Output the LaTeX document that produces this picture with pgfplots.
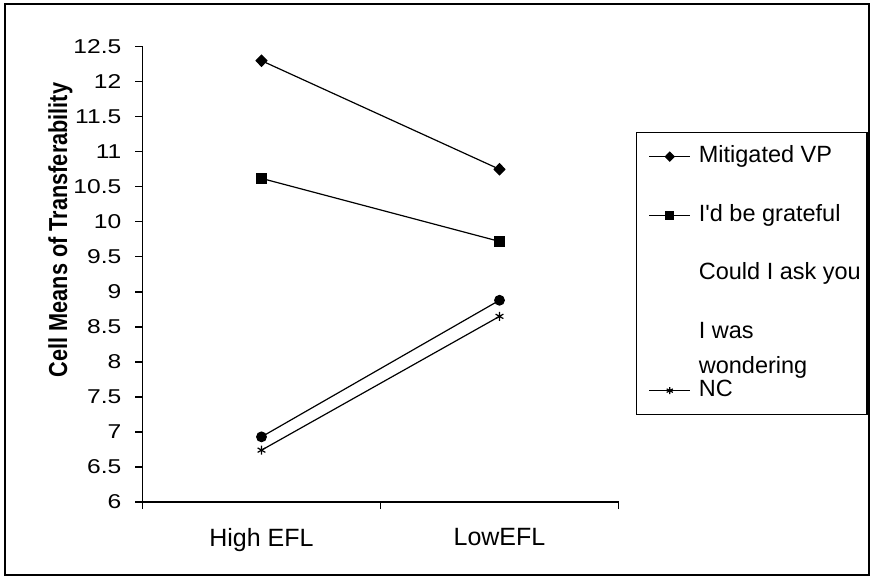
\documentclass[border=0pt]{standalone}
\usepackage{pgfplots}
\pgfplotsset{compat=1.18}
\usepackage{fontspec}
\setmainfont{Liberation Sans}
\newfontfamily\tickfont{Liberation Sans}[FakeStretch=1.23]
\newfontfamily\ylabfont{Liberation Sans Bold}[FakeStretch=0.835]

\begin{document}
\begin{tikzpicture}
\useasboundingbox (0,0) rectangle (873pt,579pt);
% chart frame
\draw[line width=2pt] (4.5pt,4.5pt) rectangle (868.5pt,574.5pt);
\begin{axis}[
  at={(142.5pt,77pt)}, anchor=south west,
  scale only axis, width=476pt, height=455.3pt,
  clip=false,
  xmin=-0.5, xmax=1.5, ymin=6, ymax=12.5,
  axis x line=bottom, axis y line=left,
  axis line style={-, line width=1.3pt},
  tick style={black, line width=1.3pt},
  major tick length=7pt, tick align=outside,
  xtick={-0.5,0.5,1.5}, x tick label as interval,
  xticklabels={High EFL, LowEFL},
  ytick={6,6.5,7,7.5,8,8.5,9,9.5,10,10.5,11,11.5,12,12.5},
  /pgf/number format/assume math mode=true,
  yticklabel style={font=\tickfont\fontsize{20}{24}\selectfont, anchor=east, inner sep=0pt, xshift=-14pt},
  xticklabel style={font=\fontsize{25}{30}\selectfont, anchor=north, inner sep=0pt, yshift=-19pt},
  ylabel={Cell Means of Transferability},
  every axis y label/.style={at={(axis description cs:-0.1586,0.5974)}, rotate=90, anchor=base,
    font=\ylabfont\fontsize{26}{30}\selectfont},
  every axis plot/.append style={black, line width=1.2pt},
  legend style={at={(1.0368,0.8127)}, anchor=north west, draw=black, line width=1.3pt,
    inner xsep=6pt, inner ysep=12pt, /tikz/row sep=34.5pt, /tikz/column sep=8pt,
    font=\fontsize{23.5}{35}\selectfont,
    nodes={inner sep=0pt, text height=18pt, text depth=6pt}},
  legend cell align=left,
  legend image code/.code={%
    \path (-6pt,0pt);
    \draw[mark repeat=2,mark phase=2,#1,every mark/.append style={scale=0.8}]
      plot coordinates {(0pt,0pt)(20.5pt,0pt)(41pt,0pt)};},
]
\addplot[mark=diamond*, mark size=5.5pt, mark options={xscale=1.3}]
  coordinates {(0,12.30) (1,10.75)};
\addlegendentry{Mitigated VP}
\addplot[mark=square*, mark size=5pt]
  coordinates {(0,10.62) (1,9.72)};
\addlegendentry{I\textquotesingle d be grateful}
\addplot[mark=*, mark size=4.8pt, legend image code/.code={}]
  coordinates {(0,6.93) (1,8.88)};
\addlegendentry{Could I ask you}
\addlegendimage{legend image code/.code={}}
\addlegendentry{\begin{tabular}[t]{@{}l@{}}I was\\wondering\end{tabular}}
\addplot[mark=asterisk, mark size=4.5pt]
  coordinates {(0,6.74) (1,8.65)};
\addlegendentry{NC}
\end{axis}
\end{tikzpicture}
\end{document}
